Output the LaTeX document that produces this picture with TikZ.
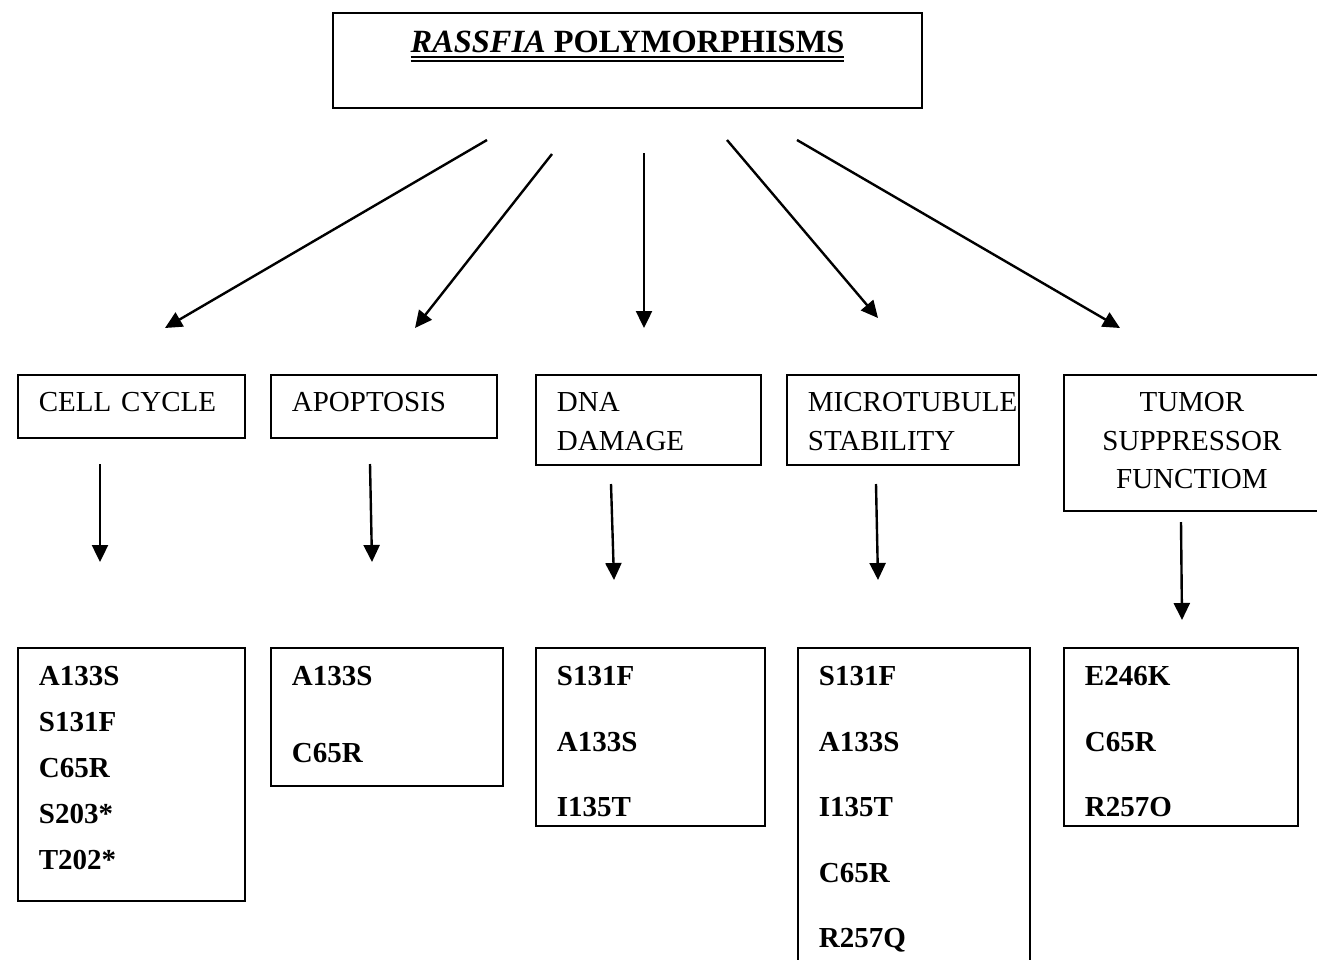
\documentclass[tikz,border=0pt]{standalone}
\usepackage{fontspec}
\setmainfont{Liberation Serif}
\usetikzlibrary{arrows.meta}

\newcommand{\dblline}[1]{\leavevmode\setbox0=\hbox{#1}\rlap{\rule[-2.4pt]{\wd0}{1pt}}\rlap{\rule[-4.6pt]{\wd0}{1pt}}\box0}

\tikzset{
    topic/.style={draw, line width=0.9pt, anchor=north west, inner xsep=10.5pt, inner ysep=0pt, text height=18.5pt, align=left, font=\fontsize{14.5}{19.25}\selectfont},
    variants/.style={topic, text height=19pt, font=\fontsize{14.5}{#1}\selectfont\bfseries},
    link/.style={-{Triangle[length=8.5pt, width=8pt]}, line width=1.2pt},
}

\begin{document}
\begin{tikzpicture}[x=0.5pt, y=-0.5pt]
    \useasboundingbox (0,0) rectangle (1317,959);
    % title
    \node[draw, line width=0.9pt, anchor=north, minimum width=294.5pt, inner ysep=0pt, text height=20pt, text depth=27.5pt, font=\fontsize{16.2}{20}\selectfont\bfseries] (poly) at (627.5,12) {\dblline{\textit{RASSFIA} POLYMORPHISMS}};
    % functions
    \node[topic, text width=92.5pt, text depth=13pt] (cycle) at (17,374) {CELL CYCLE};
    \node[topic, text width=92pt, text depth=13pt] (apop) at (270,374) {APOPTOSIS};
    \node[topic, text width=91.5pt, text depth=26.5pt] (dna) at (535,374) {DNA\\DAMAGE};
    \node[topic, text width=95pt, text depth=26.5pt] (micro) at (786,374) {MICROTUBULE\\STABILITY};
    \node[topic, text width=107pt, text depth=49.5pt, align=center] (tumor) at (1063,374) {TUMOR\\SUPPRESSOR\\FUNCTIOM};
    % variants
    \node[variants=23pt, text width=92.5pt, text depth=107.5pt] (cyclev) at (17,647) {A133S\\S131F\\C65R\\S203*\\T202*};
    \node[variants=38.5pt, text width=95pt, text depth=50pt] (apopv) at (270,647) {A133S\\C65R};
    \node[variants=32.75pt, text width=93.5pt, text depth=70pt] (dnav) at (535,647) {S131F\\A133S\\I135T};
    \node[variants=32.75pt, text width=95pt, text depth=140pt] (microv) at (797,647) {S131F\\A133S\\I135T\\C65R\\R257Q};
    \node[variants=32.75pt, text width=96pt, text depth=70pt] (tumorv) at (1063,647) {E246K\\C65R\\R257O};
    % arrow ends
    \coordinate (s1) at (487,140); \coordinate (e1) at (165,328);
    \coordinate (s2) at (552,154); \coordinate (e2) at (415,328);
    \coordinate (s3) at (644,153); \coordinate (e3) at (644,328);
    \coordinate (s4) at (727,140); \coordinate (e4) at (878,318);
    \coordinate (s5) at (797,140); \coordinate (e5) at (1120,328);
    \coordinate (d1) at (100,464); \coordinate (f1) at (100,562);
    \coordinate (d2) at (370,464); \coordinate (f2) at (372,562);
    \coordinate (d3) at (611,484); \coordinate (f3) at (614,580);
    \coordinate (d4) at (876,484); \coordinate (f4) at (878,580);
    \coordinate (d5) at (1181,522); \coordinate (f5) at (1182,620);
    % arrows
    \draw[link] (s1) -- (e1);
    \draw[link] (s2) -- (e2);
    \draw[link] (s3) -- (e3);
    \draw[link] (s4) -- (e4);
    \draw[link] (s5) -- (e5);
    \draw[link] (d1) -- (f1);
    \draw[link] (d2) -- (f2);
    \draw[link] (d3) -- (f3);
    \draw[link] (d4) -- (f4);
    \draw[link] (d5) -- (f5);
\end{tikzpicture}
\end{document}
